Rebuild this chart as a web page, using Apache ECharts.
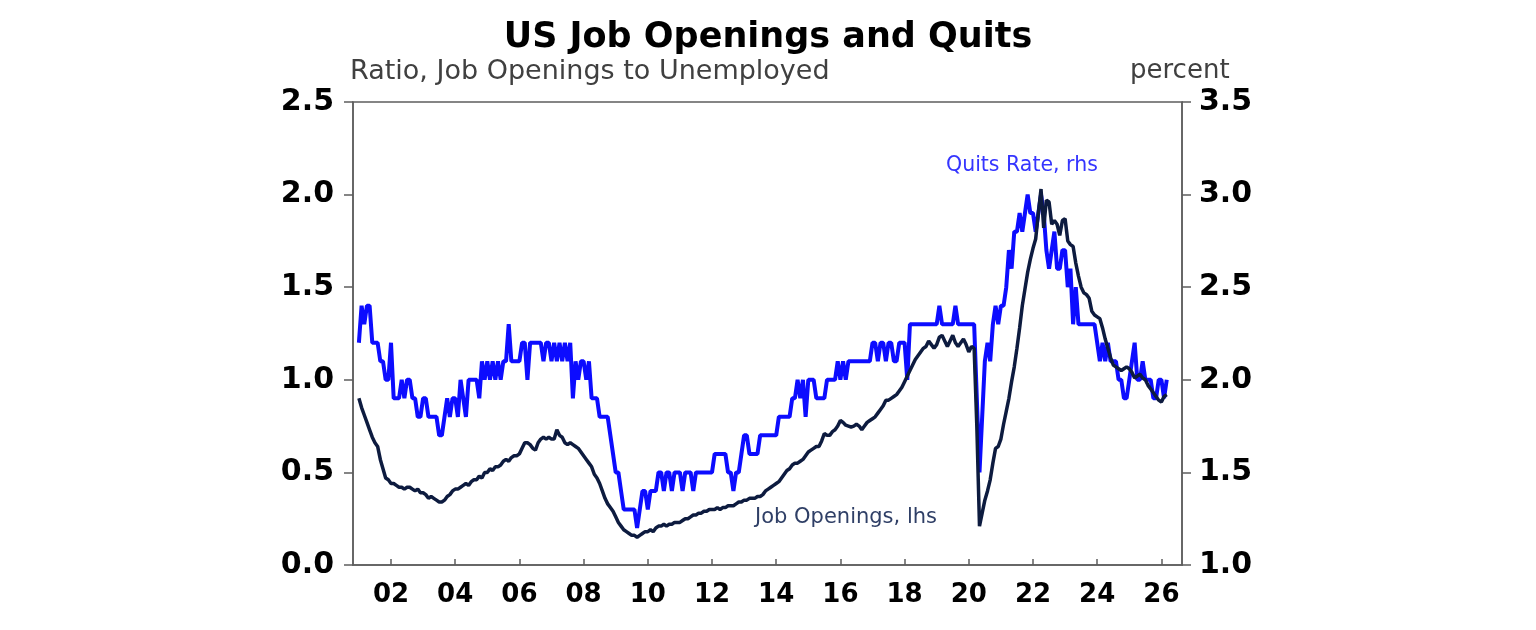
<!DOCTYPE html>
<html lang="en">
<head>
    <meta charset="UTF-8">
    <title>US Job Openings and Quits</title>
    <script src="https://cdn.jsdelivr.net/npm/echarts@6/dist/echarts.min.js"></script>
    <style>
        html, body { margin: 0; padding: 0; background: #fff; }
        #chart { width: 1536px; height: 630px; }
    </style>
</head>
<body>
    <div id="chart"></div>
    <script>
        // monthly data, first value is Dec 2000, then Jan..Dec of each year
        const quitsRate = [
            2.2,
            2.4, 2.3, 2.4, 2.4, 2.2, 2.2, 2.2, 2.1, 2.1, 2.0, 2.0, 2.2, // 2001
            1.9, 1.9, 1.9, 2.0, 1.9, 2.0, 2.0, 1.9, 1.9, 1.8, 1.8, 1.9, // 2002
            1.9, 1.8, 1.8, 1.8, 1.8, 1.7, 1.7, 1.8, 1.9, 1.8, 1.9, 1.9, // 2003
            1.8, 2.0, 1.9, 1.8, 2.0, 2.0, 2.0, 2.0, 1.9, 2.1, 2.0, 2.1, // 2004
            2.0, 2.1, 2.0, 2.1, 2.0, 2.1, 2.1, 2.3, 2.1, 2.1, 2.1, 2.1, // 2005
            2.2, 2.2, 2.0, 2.2, 2.2, 2.2, 2.2, 2.2, 2.1, 2.2, 2.2, 2.1, // 2006
            2.2, 2.1, 2.2, 2.1, 2.2, 2.1, 2.2, 1.9, 2.1, 2.0, 2.1, 2.1, // 2007
            2.0, 2.1, 1.9, 1.9, 1.9, 1.8, 1.8, 1.8, 1.8, 1.7, 1.6, 1.5, // 2008
            1.5, 1.4, 1.3, 1.3, 1.3, 1.3, 1.3, 1.2, 1.3, 1.4, 1.4, 1.3, // 2009
            1.4, 1.4, 1.4, 1.5, 1.5, 1.4, 1.5, 1.5, 1.4, 1.5, 1.5, 1.5, // 2010
            1.4, 1.5, 1.5, 1.5, 1.4, 1.5, 1.5, 1.5, 1.5, 1.5, 1.5, 1.5, // 2011
            1.6, 1.6, 1.6, 1.6, 1.6, 1.5, 1.5, 1.4, 1.5, 1.5, 1.6, 1.7, // 2012
            1.7, 1.6, 1.6, 1.6, 1.6, 1.7, 1.7, 1.7, 1.7, 1.7, 1.7, 1.7, // 2013
            1.8, 1.8, 1.8, 1.8, 1.8, 1.9, 1.9, 2.0, 1.9, 2.0, 1.8, 2.0, // 2014
            2.0, 2.0, 1.9, 1.9, 1.9, 1.9, 2.0, 2.0, 2.0, 2.0, 2.1, 2.0, // 2015
            2.1, 2.0, 2.1, 2.1, 2.1, 2.1, 2.1, 2.1, 2.1, 2.1, 2.1, 2.2, // 2016
            2.2, 2.1, 2.2, 2.2, 2.1, 2.2, 2.2, 2.1, 2.1, 2.2, 2.2, 2.2, // 2017
            2.0, 2.3, 2.3, 2.3, 2.3, 2.3, 2.3, 2.3, 2.3, 2.3, 2.3, 2.3, // 2018
            2.4, 2.3, 2.3, 2.3, 2.3, 2.3, 2.4, 2.3, 2.3, 2.3, 2.3, 2.3, // 2019
            2.3, 2.3, 1.9, 1.5, 1.8, 2.1, 2.2, 2.1, 2.3, 2.4, 2.3, 2.4, // 2020
            2.4, 2.5, 2.7, 2.6, 2.8, 2.8, 2.9, 2.8, 2.9, 3.0, 2.9, 2.9, // 2021
            2.8, 2.9, 3.0, 2.9, 2.7, 2.6, 2.7, 2.8, 2.6, 2.6, 2.7, 2.7, // 2022
            2.5, 2.6, 2.3, 2.5, 2.3, 2.3, 2.3, 2.3, 2.3, 2.3, 2.3, 2.2, // 2023
            2.1, 2.2, 2.1, 2.2, 2.1, 2.1, 2.1, 2.0, 2.0, 1.9, 1.9, 2.0, // 2024
            2.1, 2.2, 2.0, 2.0, 2.1, 2.0, 2.0, 2.0, 1.9, 1.9, 2.0, 2.0, // 2025
            1.9, 2.0                                                    // 2026
        ];

        const openingsRatio = [
            0.90,
            0.85, 0.81, 0.77, 0.73, 0.69, 0.66, 0.64, 0.57, 0.52, 0.47, 0.46, 0.44, // 2001
            0.44, 0.43, 0.42, 0.42, 0.41, 0.42, 0.42, 0.41, 0.40, 0.41, 0.39, 0.39, // 2002
            0.38, 0.36, 0.37, 0.36, 0.35, 0.34, 0.34, 0.35, 0.37, 0.38, 0.40, 0.41, // 2003
            0.41, 0.42, 0.43, 0.44, 0.43, 0.45, 0.46, 0.46, 0.48, 0.47, 0.50, 0.50, // 2004
            0.52, 0.51, 0.53, 0.53, 0.54, 0.56, 0.57, 0.56, 0.58, 0.59, 0.59, 0.60, // 2005
            0.63, 0.66, 0.66, 0.65, 0.63, 0.62, 0.66, 0.68, 0.69, 0.68, 0.69, 0.68, // 2006
            0.68, 0.73, 0.70, 0.69, 0.66, 0.65, 0.66, 0.65, 0.64, 0.63, 0.61, 0.59, // 2007
            0.57, 0.55, 0.53, 0.49, 0.47, 0.44, 0.40, 0.36, 0.33, 0.31, 0.29, 0.26, // 2008
            0.23, 0.21, 0.19, 0.18, 0.17, 0.16, 0.16, 0.15, 0.16, 0.17, 0.18, 0.18, // 2009
            0.19, 0.18, 0.20, 0.21, 0.21, 0.22, 0.21, 0.22, 0.22, 0.23, 0.23, 0.23, // 2010
            0.24, 0.25, 0.25, 0.26, 0.27, 0.27, 0.28, 0.28, 0.29, 0.29, 0.30, 0.30, // 2011
            0.30, 0.31, 0.30, 0.31, 0.31, 0.32, 0.32, 0.32, 0.33, 0.34, 0.34, 0.35, // 2012
            0.35, 0.36, 0.36, 0.36, 0.37, 0.37, 0.38, 0.40, 0.41, 0.42, 0.43, 0.44, // 2013
            0.45, 0.47, 0.49, 0.51, 0.52, 0.54, 0.55, 0.55, 0.56, 0.57, 0.59, 0.61, // 2014
            0.62, 0.63, 0.64, 0.64, 0.67, 0.71, 0.70, 0.70, 0.72, 0.73, 0.75, 0.78, // 2015
            0.77, 0.755, 0.75, 0.745, 0.75, 0.76, 0.75, 0.73, 0.75, 0.77, 0.78, 0.79, // 2016
            0.80, 0.82, 0.84, 0.86, 0.89, 0.89, 0.90, 0.91, 0.92, 0.94, 0.96, 0.99, // 2017
            1.02, 1.05, 1.08, 1.11, 1.13, 1.15, 1.17, 1.18, 1.21, 1.19, 1.17, 1.19, // 2018
            1.23, 1.24, 1.21, 1.18, 1.21, 1.24, 1.20, 1.18, 1.20, 1.22, 1.19, 1.15, // 2019
            1.18, 1.17, 0.75, 0.21, 0.28, 0.35, 0.40, 0.46, 0.55, 0.63, 0.64, 0.68, // 2020
            0.76, 0.83, 0.90, 0.99, 1.07, 1.17, 1.28, 1.40, 1.49, 1.58, 1.65, 1.71, // 2021
            1.76, 1.90, 2.03, 1.82, 1.97, 1.96, 1.84, 1.86, 1.84, 1.78, 1.86, 1.87, // 2022
            1.75, 1.73, 1.72, 1.63, 1.56, 1.50, 1.47, 1.46, 1.44, 1.37, 1.35, 1.34, // 2023
            1.33, 1.28, 1.22, 1.17, 1.12, 1.08, 1.07, 1.06, 1.05, 1.06, 1.07, 1.06, // 2024
            1.04, 1.01, 1.02, 1.03, 1.01, 1.00, 0.97, 0.95, 0.93, 0.91, 0.89, 0.88, // 2025
            0.91, 0.92                                                              // 2026
        ];

        const yearTicks = [2002, 2004, 2006, 2008, 2010, 2012, 2014, 2016, 2018, 2020, 2022, 2024, 2026];
        const leftTicks = [0, 0.5, 1.0, 1.5, 2.0, 2.5];
        const rightTicks = [1.0, 1.5, 2.0, 2.5, 3.0, 3.5];

        // values are plotted at month end, Dec 2000 -> 2001.0
        function monthEnd(i) {
            return 2000 + (12 + i) / 12;
        }
        const quitsData = quitsRate.map((v, i) => [monthEnd(i), v]);
        const openingsData = openingsRatio.map((v, i) => [monthEnd(i), v]);

        const FONT = 'DejaVu Sans';
        const AXIS_COLOR = '#5e5e5e';

        const chart = echarts.init(document.getElementById('chart'));
        chart.setOption({
            animation: false,
            backgroundColor: '#fff',
            textStyle: { fontFamily: FONT },
            title: [
                {
                    text: 'US Job Openings and Quits',
                    left: 'center',
                    top: 20,
                    padding: 0,
                    textStyle: { fontFamily: FONT, fontSize: 35, fontWeight: 'bold', color: '#000' }
                },
                {
                    text: 'Ratio, Job Openings to Unemployed',
                    left: 350,
                    top: 58,
                    padding: 0,
                    textStyle: { fontFamily: FONT, fontSize: 27, fontWeight: 'normal', color: '#404040' }
                },
                {
                    text: 'percent',
                    left: 1130,
                    top: 58,
                    padding: 0,
                    textStyle: { fontFamily: FONT, fontSize: 26, fontWeight: 'normal', color: '#404040' }
                }
            ],
            graphic: [
                {
                    type: 'text',
                    left: 946,
                    top: 155,
                    style: { text: 'Quits Rate, rhs', font: '20.5px "DejaVu Sans"', fill: '#3535ff' }
                },
                {
                    type: 'text',
                    left: 755,
                    top: 507,
                    style: { text: 'Job Openings, lhs', font: '21px "DejaVu Sans"', fill: '#2f3f66' }
                }
            ],
            grid: {
                left: 353,
                right: 354,
                top: 102,
                bottom: 65,
                show: true,
                borderColor: AXIS_COLOR,
                borderWidth: 1.5,
                containLabel: false
            },
            xAxis: {
                type: 'value',
                min: 2000.816,
                max: 2026.642,
                splitLine: { show: false },
                axisLine: { show: true, lineStyle: { color: AXIS_COLOR, width: 1.5 } },
                axisTick: {
                    show: true,
                    inside: true,
                    length: 6,
                    customValues: yearTicks,
                    lineStyle: { color: AXIS_COLOR, width: 1.5 }
                },
                axisLabel: {
                    customValues: yearTicks,
                    margin: 17,
                    fontFamily: FONT,
                    fontSize: 26,
                    fontWeight: 'bold',
                    color: '#000',
                    formatter: v => String(Math.round(v) % 100).padStart(2, '0')
                }
            },
            yAxis: [
                {
                    type: 'value',
                    position: 'left',
                    min: leftTicks[0],
                    max: leftTicks[leftTicks.length - 1],
                    interval: 0.5,
                    splitLine: { show: false },
                    axisLine: { show: true, lineStyle: { color: AXIS_COLOR, width: 1.5 } },
                    axisTick: { show: true, length: 9, lineStyle: { color: AXIS_COLOR, width: 1.5 } },
                    axisLabel: {
                        margin: 19,
                        fontFamily: FONT,
                        fontSize: 30,
                        fontWeight: 'bold',
                        color: '#000',
                        formatter: v => v.toFixed(1)
                    }
                },
                {
                    type: 'value',
                    position: 'right',
                    min: rightTicks[0],
                    max: rightTicks[rightTicks.length - 1],
                    interval: 0.5,
                    splitLine: { show: false },
                    axisLine: { show: true, lineStyle: { color: AXIS_COLOR, width: 1.5 } },
                    axisTick: { show: true, length: 9, lineStyle: { color: AXIS_COLOR, width: 1.5 } },
                    axisLabel: {
                        margin: 17,
                        fontFamily: FONT,
                        fontSize: 30,
                        fontWeight: 'bold',
                        color: '#000',
                        formatter: v => v.toFixed(1)
                    }
                }
            ],
            series: [
                {
                    name: 'Quits Rate, rhs',
                    type: 'line',
                    yAxisIndex: 1,
                    data: quitsData,
                    showSymbol: false,
                    symbol: 'none',
                    z: 2,
                    lineStyle: { color: '#0c0cff', width: 4 }
                },
                {
                    name: 'Job Openings, lhs',
                    type: 'line',
                    yAxisIndex: 0,
                    data: openingsData,
                    showSymbol: false,
                    symbol: 'none',
                    z: 3,
                    lineStyle: { color: '#0d1b3f', width: 3.5 }
                }
            ]
        });
    </script>
</body>
</html>
